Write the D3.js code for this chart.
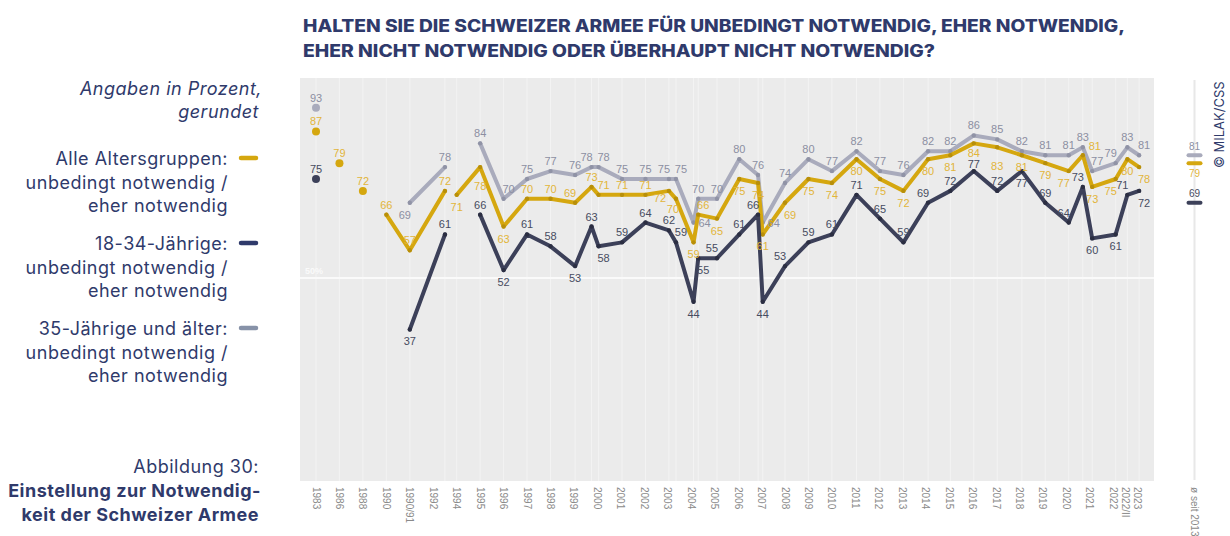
<!DOCTYPE html>
<html>
<head>
<meta charset="utf-8">
<script src="https://cdn.jsdelivr.net/npm/d3@7"></script>
<style>
    html, body { margin: 0; padding: 0; background: #fff; }
    svg { display: block; }
</style>
</head>
<body>
<div id="chart"></div>
<script>
// ===========================================================
// DATA
// ===========================================================
// x position of each survey, in tick slots (some years had two surveys)
const surveyPos = [0, 1, 2, 3, 4, 5.5, 6, 7, 8, 9, 10, 11.05, 11.75, 12.05, 13.05, 14.05, 15.05, 15.35, 16.1, 16.3,
    17.1, 18.05, 18.85, 19.05, 20, 21, 22, 23.05, 24.05, 25.05, 26.1, 27.05, 28.05, 29.05, 30.1, 31.1, 32.1, 32.7, 33.1, 34.1,
    34.6, 35.1];

const allAges = [87, 79, 72, 66, 57, 72, 71, 78, 63, 70, 70, 69, 73, 71, 71, 71, 72, 70, 59, 66,
    65, 75, 74, 61, 69, 75, 74, 80, 75, 72, 80, 81, 84, 83, 81, 79, 77, 81, 73, 75, 80, 78];
const age18to34 = [75, null, null, null, 37, 61, null, 66, 52, 61, 58, 53, 63, 58, 59, 64, 62, 59, 44, 55,
    55, 61, 66, 44, 53, 59, 61, 71, 65, 59, 69, 72, 77, 72, 77, 69, 64, 73, 60, 61, 71, 72];
const age35plus = [93, null, null, null, 69, 78, null, 84, 70, 75, 77, 76, 78, 78, 75, 75, 75, 75, 64, 70,
    70, 80, 76, 64, 74, 80, 77, 82, 77, 76, 82, 82, 86, 85, 82, 81, 81, 83, 77, 79, 83, 81];

// the all-ages line is not joined into these surveys
const allAgesBreaks = [1, 2, 3, 6];

const tickLabels = ["1983", "1986", "1988", "1990", "1990/91", "1992", "1994", "1995", "1996", "1997", "1998", "1999",
    "2000", "2001", "2002", "2003", "2004", "2005", "2006", "2007", "2008", "2009", "2010", "2011", "2012", "2013",
    "2014", "2015", "2016", "2017", "2018", "2019", "2020", "2021", "2022", "2022/II", "2023"];
const tickPos = [0, 1, 2, 3, 4, 5, 6, 7, 8, 9, 10, 11, 12, 13, 14, 15, 16, 17, 18, 19, 20, 21, 22, 23, 24, 25,
    26, 27, 28, 29, 30, 31, 32, 33, 34, 34.5, 35.05];

// average since 2013: 35+, all, 18-34
const avgSince2013 = [81, 79, 69];

// where each value label sits relative to its point
const allAgesSide = ["a","a","a","a","a","a","b","bb","b","a", "a","al","a","ar","a","a","bl2","bl3","b","ar",
    "b","b","b","b","br","b","b","b","b","b", "b","b","b1","bb","b","b","bl","rr","b","bl", "b","br"];
const age18Side = ["a","","","","b","a","","a","b","a", "a","b","a","br","a","a","a","ar","b","br",
    "al","a","al","b","al","a","a","a","a","a", "al","a","a1","a","b","a","al","al","b","b", "al","br"];
const age35Side = ["a","","","","bl","a","","a","ar","a", "a","a","al","ar","a","a","al","ar","r","a",
    "a","a","a","r","a","a","a","a","a","a", "a","a","a","a","a","a","a","a","ar","al", "a","ar"];

// ===========================================================
// SETUP
// ===========================================================
const width = 1230;
const height = 536;
const navyText = "#2f3a6b";

const series = [
    { key: "old", values: age35plus, side: age35Side, breaks: [], line: "#a9abbc", dot: "#9093a6", label: "#8c8fa2" },
    { key: "all", values: allAges, side: allAgesSide, breaks: allAgesBreaks, line: "#d5a70f", dot: "#b88f0a", label: "#e2b53a" },
    { key: "young", values: age18to34, side: age18Side, breaks: [], line: "#3c4059", dot: "#2b2e42", label: "#474b60" }
];

const svg = d3.select("#chart").append("svg")
    .attr("width", width)
    .attr("height", height)
    .style("font-family", "Inter, 'Liberation Sans', sans-serif");

const panel = { left: 300, right: 1154, top: 78, bottom: 481 };

const x = d3.scaleLinear().domain([0, 35]).range([316, 1136.75]);
const y = d3.scaleLinear().domain([0, 100]).range([476, 80]);

// ===========================================================
// TITLE + SIDE TEXT
// ===========================================================
const title = svg.append("g")
    .attr("fill", navyText)
    .style("font-weight", 800)
    .style("font-size", "17px");
title.append("text").attr("x", 303).attr("y", 32)
    .attr("textLength", 822).attr("lengthAdjust", "spacingAndGlyphs")
    .text("HALTEN SIE DIE SCHWEIZER ARMEE FÜR UNBEDINGT NOTWENDIG, EHER NOTWENDIG,");
title.append("text").attr("x", 303).attr("y", 57)
    .attr("textLength", 632).attr("lengthAdjust", "spacingAndGlyphs")
    .text("EHER NICHT NOTWENDIG ODER ÜBERHAUPT NICHT NOTWENDIG?");

const side = svg.append("g")
    .attr("fill", navyText)
    .attr("text-anchor", "end")
    .style("font-size", "18px")
    .style("letter-spacing", "0.5px");

side.append("text").attr("x", 262).attr("y", 95).style("font-style", "italic").text("Angaben in Prozent,");
side.append("text").attr("x", 259).attr("y", 118).style("font-style", "italic").text("gerundet");

const legendItems = [
    { lines: ["Alle Altersgruppen:", "unbedingt notwendig /", "eher notwendig"], color: "#d5a70f", y: 165 },
    { lines: ["18-34-Jährige:", "unbedingt notwendig /", "eher notwendig"], color: "#2f3a6b", y: 250 },
    { lines: ["35-Jährige und älter:", "unbedingt notwendig /", "eher notwendig"], color: "#8792a8", y: 335 }
];
legendItems.forEach(item => {
    item.lines.forEach((t, i) => {
        side.append("text").attr("x", 228).attr("y", item.y + i * 23.5).text(t);
    });
    svg.append("line")
        .attr("x1", 241).attr("x2", 256)
        .attr("y1", item.y - 7).attr("y2", item.y - 7)
        .attr("stroke", item.color)
        .attr("stroke-width", 4.5)
        .attr("stroke-linecap", "round");
});

side.append("text").attr("x", 259).attr("y", 473).text("Abbildung 30:");
side.append("text").attr("x", 261).attr("y", 497).style("font-weight", 700).text("Einstellung zur Notwendig-");
side.append("text").attr("x", 259).attr("y", 521).style("font-weight", 700).text("keit der Schweizer Armee");

// ===========================================================
// PANEL + GRID
// ===========================================================
svg.append("rect")
    .attr("x", panel.left).attr("y", panel.top)
    .attr("width", panel.right - panel.left)
    .attr("height", panel.bottom - panel.top)
    .attr("fill", "#ebebeb");

svg.append("g")
    .selectAll("line")
    .data(surveyPos)
    .join("line")
    .attr("x1", d => x(d)).attr("x2", d => x(d))
    .attr("y1", panel.top).attr("y2", panel.bottom)
    .attr("stroke", "#f3f3f3")
    .attr("stroke-width", 1);

svg.append("line")
    .attr("x1", panel.left).attr("x2", panel.right)
    .attr("y1", y(50)).attr("y2", y(50))
    .attr("stroke", "#fafafa")
    .attr("stroke-width", 2);
svg.append("text")
    .attr("x", 305).attr("y", y(50) - 4)
    .attr("fill", "#fafafa")
    .style("font-family", "'Liberation Sans', Arial, sans-serif")
    .style("font-size", "9px")
    .style("font-weight", 700)
    .text("50%");

// x tick labels (rotated)
svg.append("g")
    .selectAll("text")
    .data(tickLabels)
    .join("text")
    .attr("transform", (d, i) => `translate(${x(tickPos[i]) - 3.5}, 487) rotate(90)`)
    .attr("fill", "#8a8a8a")
    .style("font-family", "'Liberation Sans', Arial, sans-serif")
    .style("font-size", "10px")
    .text(d => d);

// ===========================================================
// LINES, DOTS, LABELS
// ===========================================================
function segmentsOf(s) {
    const segs = [];
    let cur = [];
    s.values.forEach((v, i) => {
        if (v == null || s.breaks.includes(i)) {
            if (cur.length) segs.push(cur);
            cur = [];
        }
        if (v != null) cur.push({ i, v });
    });
    if (cur.length) segs.push(cur);
    return segs;
}

const line = d3.line()
    .x(d => x(surveyPos[d.i]))
    .y(d => y(d.v));

series.forEach(s => {
    const g = svg.append("g");
    const segs = segmentsOf(s);

    g.selectAll("path")
        .data(segs.filter(seg => seg.length > 1))
        .join("path")
        .attr("d", line)
        .attr("fill", "none")
        .attr("stroke", s.line)
        .attr("stroke-width", 4)
        .attr("stroke-linejoin", "round")
        .attr("stroke-linecap", "round");

    const pts = segs.flatMap(seg => seg.map(p => ({ ...p, alone: seg.length === 1 })));
    g.selectAll("circle")
        .data(pts)
        .join("circle")
        .attr("cx", d => x(surveyPos[d.i]))
        .attr("cy", d => y(d.v))
        .attr("r", d => d.alone ? 4 : 2.2)
        .attr("fill", d => d.alone ? s.line : s.dot);
});

const offsets = {
    a: [0, -10], a1: [0, -7], b: [0, 12], b1: [0, 10], bb: [0, 19], l: [-11, 0], r: [11, 0], rr: [12, -9],
    al: [-5, -10], ar: [5, -10], bl: [-5, 12], br: [5, 12], bl2: [-9, 7], bl3: [-3, 10]
};

series.forEach(s => {
    svg.append("g")
        .selectAll("text")
        .data(s.values.map((v, i) => ({ v, i })).filter(d => d.v != null))
        .join("text")
        .attr("x", d => x(surveyPos[d.i]) + offsets[s.side[d.i]][0])
        .attr("y", d => y(d.v) + offsets[s.side[d.i]][1])
        .attr("text-anchor", "middle")
        .attr("dominant-baseline", "central")
        .attr("fill", s.label)
        .style("font-family", "'Liberation Sans', Arial, sans-serif")
        .style("font-size", "11px")
        .text(d => d.v);
});

// ===========================================================
// AVERAGE SINCE 2013 (right strip)
// ===========================================================
const avgX = 1194.5;
svg.append("line")
    .attr("x1", avgX).attr("x2", avgX)
    .attr("y1", 80).attr("y2", 480)
    .attr("stroke", "#e8e8e8")
    .attr("stroke-width", 2);

const avgSides = [-9, 10, -9];
avgSince2013.forEach((v, i) => {
    const s = series[i];
    svg.append("line")
        .attr("x1", avgX - 6).attr("x2", avgX + 6)
        .attr("y1", y(v)).attr("y2", y(v))
        .attr("stroke", s.line)
        .attr("stroke-width", 4)
        .attr("stroke-linecap", "round");
    svg.append("text")
        .attr("x", avgX).attr("y", y(v) + avgSides[i])
        .attr("text-anchor", "middle")
        .attr("dominant-baseline", "central")
        .attr("fill", s.label)
        .style("font-family", "'Liberation Sans', Arial, sans-serif")
        .style("font-size", "10px")
        .text(v);
});

svg.append("text")
    .attr("transform", `translate(${avgX - 3.5}, 487) rotate(90)`)
    .attr("fill", "#8a8a8a")
    .style("font-family", "'Liberation Sans', Arial, sans-serif")
    .style("font-size", "10px")
    .text("ø seit 2013");

svg.append("text")
    .attr("transform", "translate(1224, 168) rotate(-90)")
    .attr("fill", navyText)
    .style("font-size", "13px")
    .text("© MILAK/CSS");
</script>
</body>
</html>
